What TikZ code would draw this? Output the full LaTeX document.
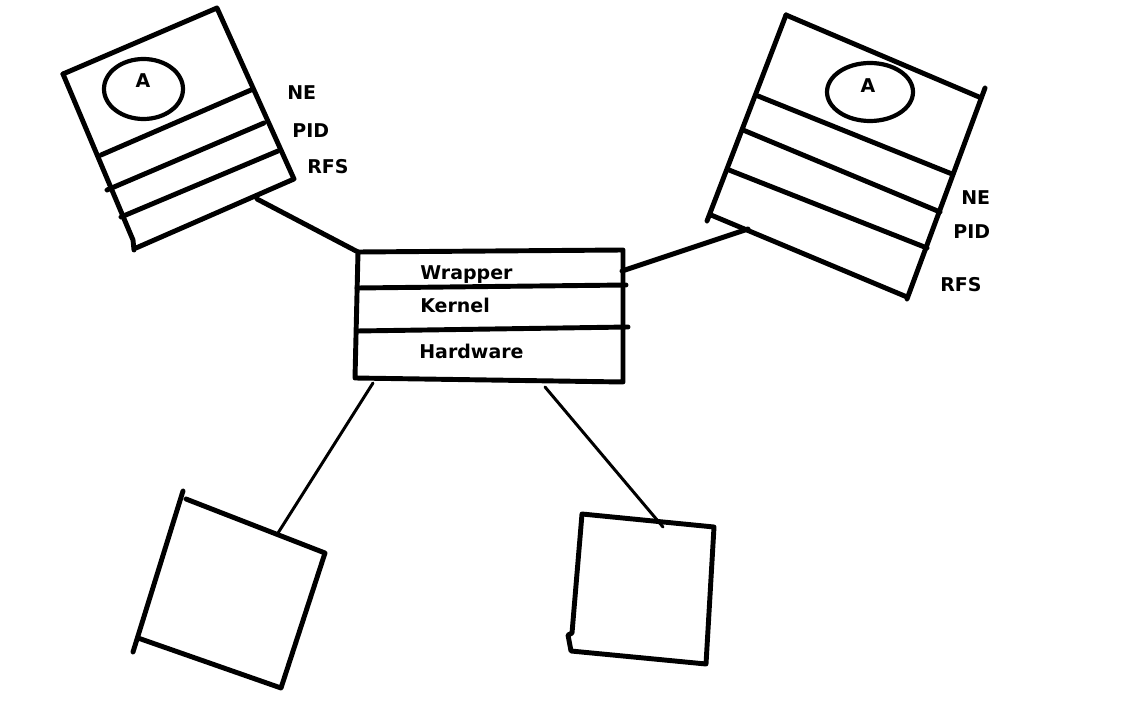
\documentclass[tikz,border=0pt]{standalone}
\usepackage{fontspec}
\setmainfont{DejaVu Sans}
\usepackage{tikz}

\begin{document}
\begin{tikzpicture}[x=0.02cm, y=-0.02cm, line cap=round, line join=round,
    pen/.style={line width=2.8pt},
    thinpen/.style={line width=1.7pt},
    lbl/.style={anchor=base west, inner sep=0pt, font=\bfseries\fontsize{10.8}{13}\selectfont}]
  \useasboundingbox (0,0) rectangle (1125,702);

  % Named points
  \coordinate (lboxout) at (257,199);
  \coordinate (rboxout) at (748,229);
  \coordinate (hostnw) at (358,252);
  \coordinate (hoste) at (622,271);
  \coordinate (hostsw) at (373,383);
  \coordinate (hostse) at (545,387);
  \coordinate (blin) at (278,533);
  \coordinate (brin) at (663,527);

  % Host box
  \draw[pen] (358,252) -- (623,250) -- (623,382) -- (355,378) -- cycle;
  \draw[pen] (357,288) -- (626,285);
  \draw[pen] (357,331) -- (628,327);
  \node[lbl] (wrapper) at (420,280) {Wrapper};
  \node[lbl] (kernel) at (420,313) {Kernel};
  \node[lbl] (hardware) at (419,358) {Hardware};

  % Left container
  \draw[pen] (63,74) -- (217,8) -- (294,179) -- (136,248);
  \draw[pen] (63,74) -- (133,240) -- (134,250);
  \draw[pen] (101,155) -- (251,90);
  \draw[pen] (107,190) -- (264,123);
  \draw[pen] (121,217) -- (278,151);
  \draw[line width=2.4pt] (143.5,89) ellipse [x radius=39.5, y radius=30];
  \node[lbl, anchor=base] (lapp) at (143,88) {A};
  \node[lbl] (lne) at (287,100) {NE};
  \node[lbl] (lpid) at (292,138) {PID};
  \node[lbl] (lrfs) at (307,174) {RFS};

  % Right container
  \draw[pen] (786,15) -- (979,97);
  \draw[pen] (985,88) -- (907,299);
  \draw[pen] (907,297) -- (711,215);
  \draw[pen] (786,15) -- (707,221);
  \draw[pen] (758,96) -- (952,174);
  \draw[pen] (743,130) -- (940,212);
  \draw[pen] (729,170) -- (927,248);
  \draw[line width=2.4pt] (870,92) ellipse [x radius=43, y radius=29];
  \node[lbl, anchor=base] (rapp) at (868,93) {A};
  \node[lbl] (rne) at (961,205) {NE};
  \node[lbl] (rpid) at (953,239) {PID};
  \node[lbl] (rrfs) at (940,292) {RFS};

  % Empty boxes
  \draw[pen] (183,491) -- (133,652);
  \draw[pen] (186,499) -- (325,553) -- (281,688) -- (138,638);
  \draw[pen] (582,514) -- (714,527) -- (706,664) -- (571,651) -- (568,635) -- (572,633) -- cycle;

  % Connectors
  \draw[pen] (lboxout) -- (hostnw);
  \draw[pen] (hoste) -- (rboxout);
  \draw[thinpen] (hostsw) -- (blin);
  \draw[thinpen] (hostse) -- (brin);
\end{tikzpicture}
\end{document}
